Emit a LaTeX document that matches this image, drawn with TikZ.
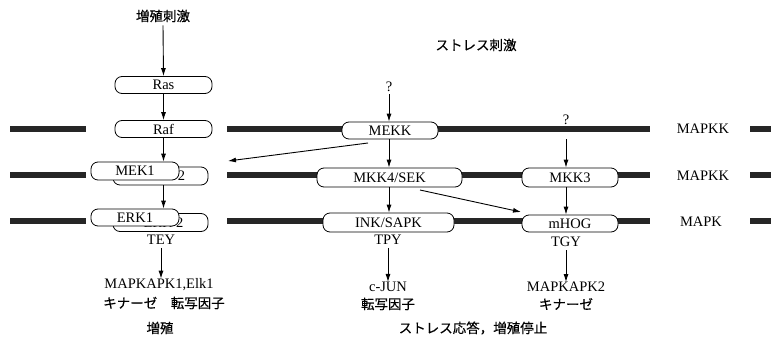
\documentclass[tikz,border=0pt]{standalone}
\usepackage{fontspec}
\setmainfont{Liberation Serif}
\newfontfamily\jp[FakeBold=0.4]{Noto Sans CJK JP}
\usetikzlibrary{arrows.meta}
\begin{document}
\begin{tikzpicture}[x=1pt,y=-1pt,
  every node/.style={font=\fontsize{14.5}{16}\selectfont, inner sep=0pt},
  pill/.style={draw, line width=0.8pt, fill=white, rounded corners=7pt, minimum height=17pt, align=center},
  bar/.style={line width=5.5pt, black!85},
  arr/.style={-{Latex[length=8pt,width=5pt]}, line width=0.9pt},
  jp/.style={font=\jp\fontsize{13.5}{16}\selectfont}]
\useasboundingbox (0,0) rectangle (771,340);

% bars
\foreach \y in {129,175,221}{
  \draw[bar] (10,\y) -- (86,\y);
  \draw[bar] (227,\y) -- (650,\y);
  \draw[bar] (750,\y) -- (771,\y);
}

% left column
\node[jp] (t1) at (163,16) {増殖刺激};
\node[pill, minimum width=97pt] (Ras) at (163.5,85) {Ras};
\node[pill, minimum width=97pt] (Raf) at (163.5,129) {Raf};
\node[pill, minimum width=95pt, minimum height=18pt] (MEK2) at (160.5,176) {\hspace*{6pt}MEK 2};
\node[pill, minimum width=88pt, minimum height=18pt] (MEK1) at (135,171) {MEK1};
\node[pill, minimum width=95pt, minimum height=18pt] (ERK2) at (160.5,222.5) {\hspace*{6pt}ERK 2};
\node[pill, minimum width=88pt, minimum height=17pt] (ERK1) at (135,217.5) {ERK1};
\node (TEY) at (161,240) {TEY};
\node (L1) at (159,285) {MAPKAPK1,Elk1};
\node[jp] (L2) at (164,303) {キナーゼ\hspace{1em}転写因子};
\node[jp] (L3) at (160,328) {増殖};

% middle column
\node[jp] (t2) at (476,45) {ストレス刺激};
\node (q1) at (389,87) {?};
\node[pill, minimum width=96pt] (MEKK) at (390,130.5) {MEKK};
\node[pill, minimum width=145pt, minimum height=19pt] (MKK4) at (389.5,177.5) {MKK4/SEK};
\node[pill, minimum width=131pt, minimum height=19pt] (INK) at (388.5,222.5) {INK/SAPK};
\node (TPY) at (388,240) {TPY};
\node (M1) at (388,287) {c-JUN};
\node[jp] (M2) at (388,304) {転写因子};
\node[jp] (M3) at (473,328) {ストレス応答，増殖停止};

% right column
\node (q2) at (566,120) {?};
\node[pill, minimum width=96pt, minimum height=19pt] (MKK3) at (570,177.5) {MKK3};
\node[pill, minimum width=96pt] (mHOG) at (570,223.5) {mHOG};
\node (TGY) at (566,242) {TGY};
\node (R1) at (566,287) {MAPKAPK2};
\node[jp] (R2) at (566,304) {キナーゼ};

% side labels
\node (S1) at (703,129) {MAPKK};
\node (S2) at (703,176) {MAPKK};
\node (S3) at (701,222) {MAPK};

% connectors
\draw[arr] (t1.south) ++(0,3) -- (Ras.north);
\draw[arr] (Ras.south) -- (Raf.north);
\draw[arr] (Raf.south) -- (Raf.south |- MEK1.north);
\draw[arr] (MEK2.south -| Raf.south) -- (ERK1.north -| Raf.south);
\draw[arr] (TEY.south) ++(0,3) -- (L1.north -| TEY.south);

\draw[arr] (q1.south) ++(0,2) -- (MEKK.north -| q1.south);
\draw[arr] (MEKK.south -| q1.south) -- (MKK4.north -| q1.south);
\draw[arr] (MKK4.south -| q1.south) -- (INK.north -| q1.south);
\draw[arr] (TPY.south) ++(0,3) -- (M1.north -| TPY.south);
\coordinate (a0) at (368,143);
\coordinate (a1) at (228,161);
\draw[arr] (a0) -- (a1);
\coordinate (b0) at (420,190);
\coordinate (b1) at (521,212);
\draw[arr] (b0) -- (b1);

\draw[arr] (q2.south) ++(0,14) -- (MKK3.north -| q2.south);
\draw[arr] (MKK3.south -| q2.south) -- (mHOG.north -| q2.south);
\draw[arr] (TGY.south) ++(0,3) -- (R1.north -| TGY.south);
\end{tikzpicture}
\end{document}
